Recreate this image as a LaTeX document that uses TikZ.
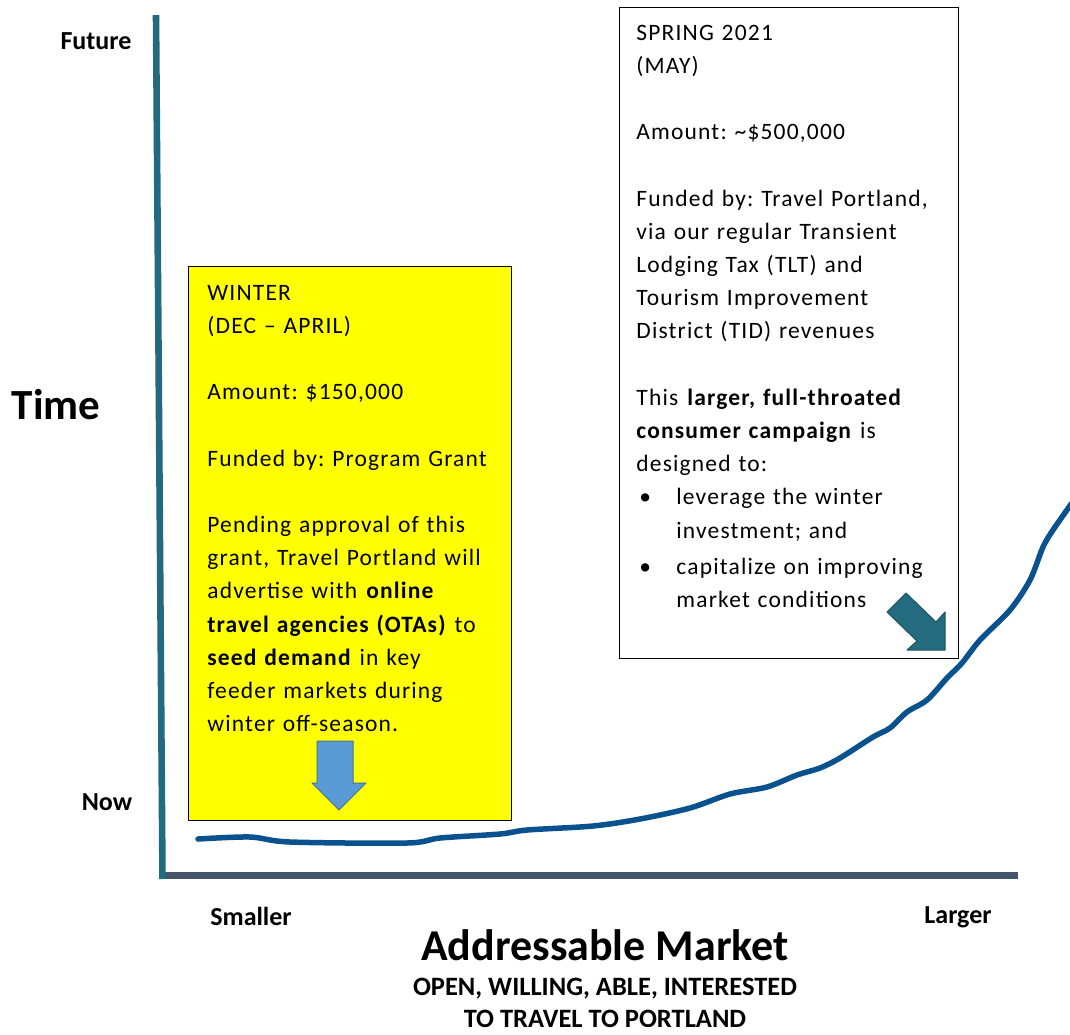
\documentclass[tikz,border=0pt]{standalone}
\usepackage{fontspec}
\usepackage{xcolor}
\setmainfont{Carlito}
\newfontfamily\boxfont[LetterSpace=5]{Carlito}

\definecolor{axisteal}{HTML}{23697F}
\definecolor{axisslate}{HTML}{44546A}
\definecolor{curveblue}{HTML}{0A528E}
\definecolor{boxyellow}{HTML}{FFFF00}
\definecolor{arrowblue}{HTML}{5B9BD5}
\definecolor{arrowblueline}{HTML}{41719C}
\definecolor{arrowteal}{HTML}{246B80}
\definecolor{arrowtealline}{HTML}{1B5161}

\begin{document}
\frenchspacing
\begin{tikzpicture}[x=1pt, y=-1pt, thick]
        % Define the styles
        \tikzstyle{axislabel} = [font=\fontsize{26}{30}\selectfont\bfseries, inner sep=0]
        \tikzstyle{bigtitle} = [font=\fontsize{43}{50}\selectfont\bfseries, inner sep=0]
        \tikzstyle{boxtext} = [font=\boxfont\fontsize{23.5}{33.2}\selectfont, text width=320pt, align=left, inner sep=0, anchor=base west]
        \tikzstyle{phasebox} = [rectangle, draw=black, line width=1.3pt, anchor=north west, inner sep=0]

        \useasboundingbox (0,0) rectangle (1070,1034);

        % Axes
        \draw [axisslate, line width=7pt] (159,875.5) -- (1018,875.5);
        \draw [axisteal, line width=6.6pt] (156,15) -- (162.5,879);

        % Axis labels
        \node (future) [axislabel] at (96,41) {Future};
        \node (now) [axislabel] at (107,802) {Now};
        \node (time) [bigtitle] at (56,405) {Time};
        \node (smaller) [axislabel] at (251,916) {Smaller};
        \node (larger) [axislabel] at (958,917) {Larger};
        \node (market) [bigtitle, font=\fontsize{44}{50}\selectfont\bfseries] at (605,945) {Addressable Market};
        \node (open) [axislabel, font=\fontsize{26.5}{30}\selectfont\bfseries] at (605,989) {OPEN, WILLING, ABLE, INTERESTED};
        \node (travel) [axislabel, font=\fontsize{26.5}{30}\selectfont\bfseries] at (605,1019) {TO TRAVEL TO PORTLAND};

        % Boxes
        \node (winterbox) [phasebox, fill=boxyellow, minimum width=323pt, minimum height=554pt] at (188,266) {};
        \node (springbox) [phasebox, fill=white, minimum width=339pt, minimum height=651pt] at (619,7) {};

        \node (wintertext) [boxtext] at (207,300) {WINTER\\(DEC – APRIL)\\[33.2pt]Amount: \$150,000\\[33.2pt]Funded by: Program Grant\\[33.2pt]Pending approval of this\\grant, Travel Portland will\\advertise with \textbf{online}\\\textbf{travel agencies (OTAs)} to\\\textbf{seed demand} in key\\feeder markets during\\winter off-season.};

        \node (springtext) [boxtext] at (636,40) {SPRING 2021\\(MAY)\\[33.2pt]Amount: \textasciitilde\$500,000\\[33.2pt]Funded by: Travel Portland,\\via our regular Transient\\Lodging Tax (TLT) and\\Tourism Improvement\\District (TID) revenues\\[33.2pt]This \textbf{larger, full-throated}\\\textbf{consumer campaign} is\\designed to:\\\hspace*{3pt}\makebox[37pt][l]{•}leverage the winter\\\hspace*{40pt}investment; and\\[3pt]\hspace*{3pt}\makebox[37pt][l]{•}capitalize on improving\\\hspace*{40pt}market conditions};

        % Arrows
        \filldraw [fill=arrowblue, draw=arrowblueline, line width=1pt, line join=round] (317,741) -- (353,741) -- (353,783) -- (366,783) -- (339,810) -- (312,783) -- (317,783) -- cycle;
        \filldraw [fill=arrowteal, draw=arrowtealline, line width=1pt, line join=round] (887,612) -- (906,593) -- (936,622) -- (945,612) -- (945,650) -- (907,650) -- (917,641) -- cycle;

        % Market curve
        \draw [curveblue, line width=5.5pt, line cap=round, line join=round] plot [smooth, tension=0.5] coordinates {(198,839) (250,837) (290,842) (407,843) (440,838) (500,834) (527,830) (593,826) (640,819) (690,808) (730,794) (767,787) (797,775) (820,768) (840,758) (873,737) (890,728) (907,712) (927,700) (947,678) (962,663) (980,640) (1010,610) (1030,580) (1043,547) (1053,530) (1074,500)};
    \end{tikzpicture}
\end{document}
